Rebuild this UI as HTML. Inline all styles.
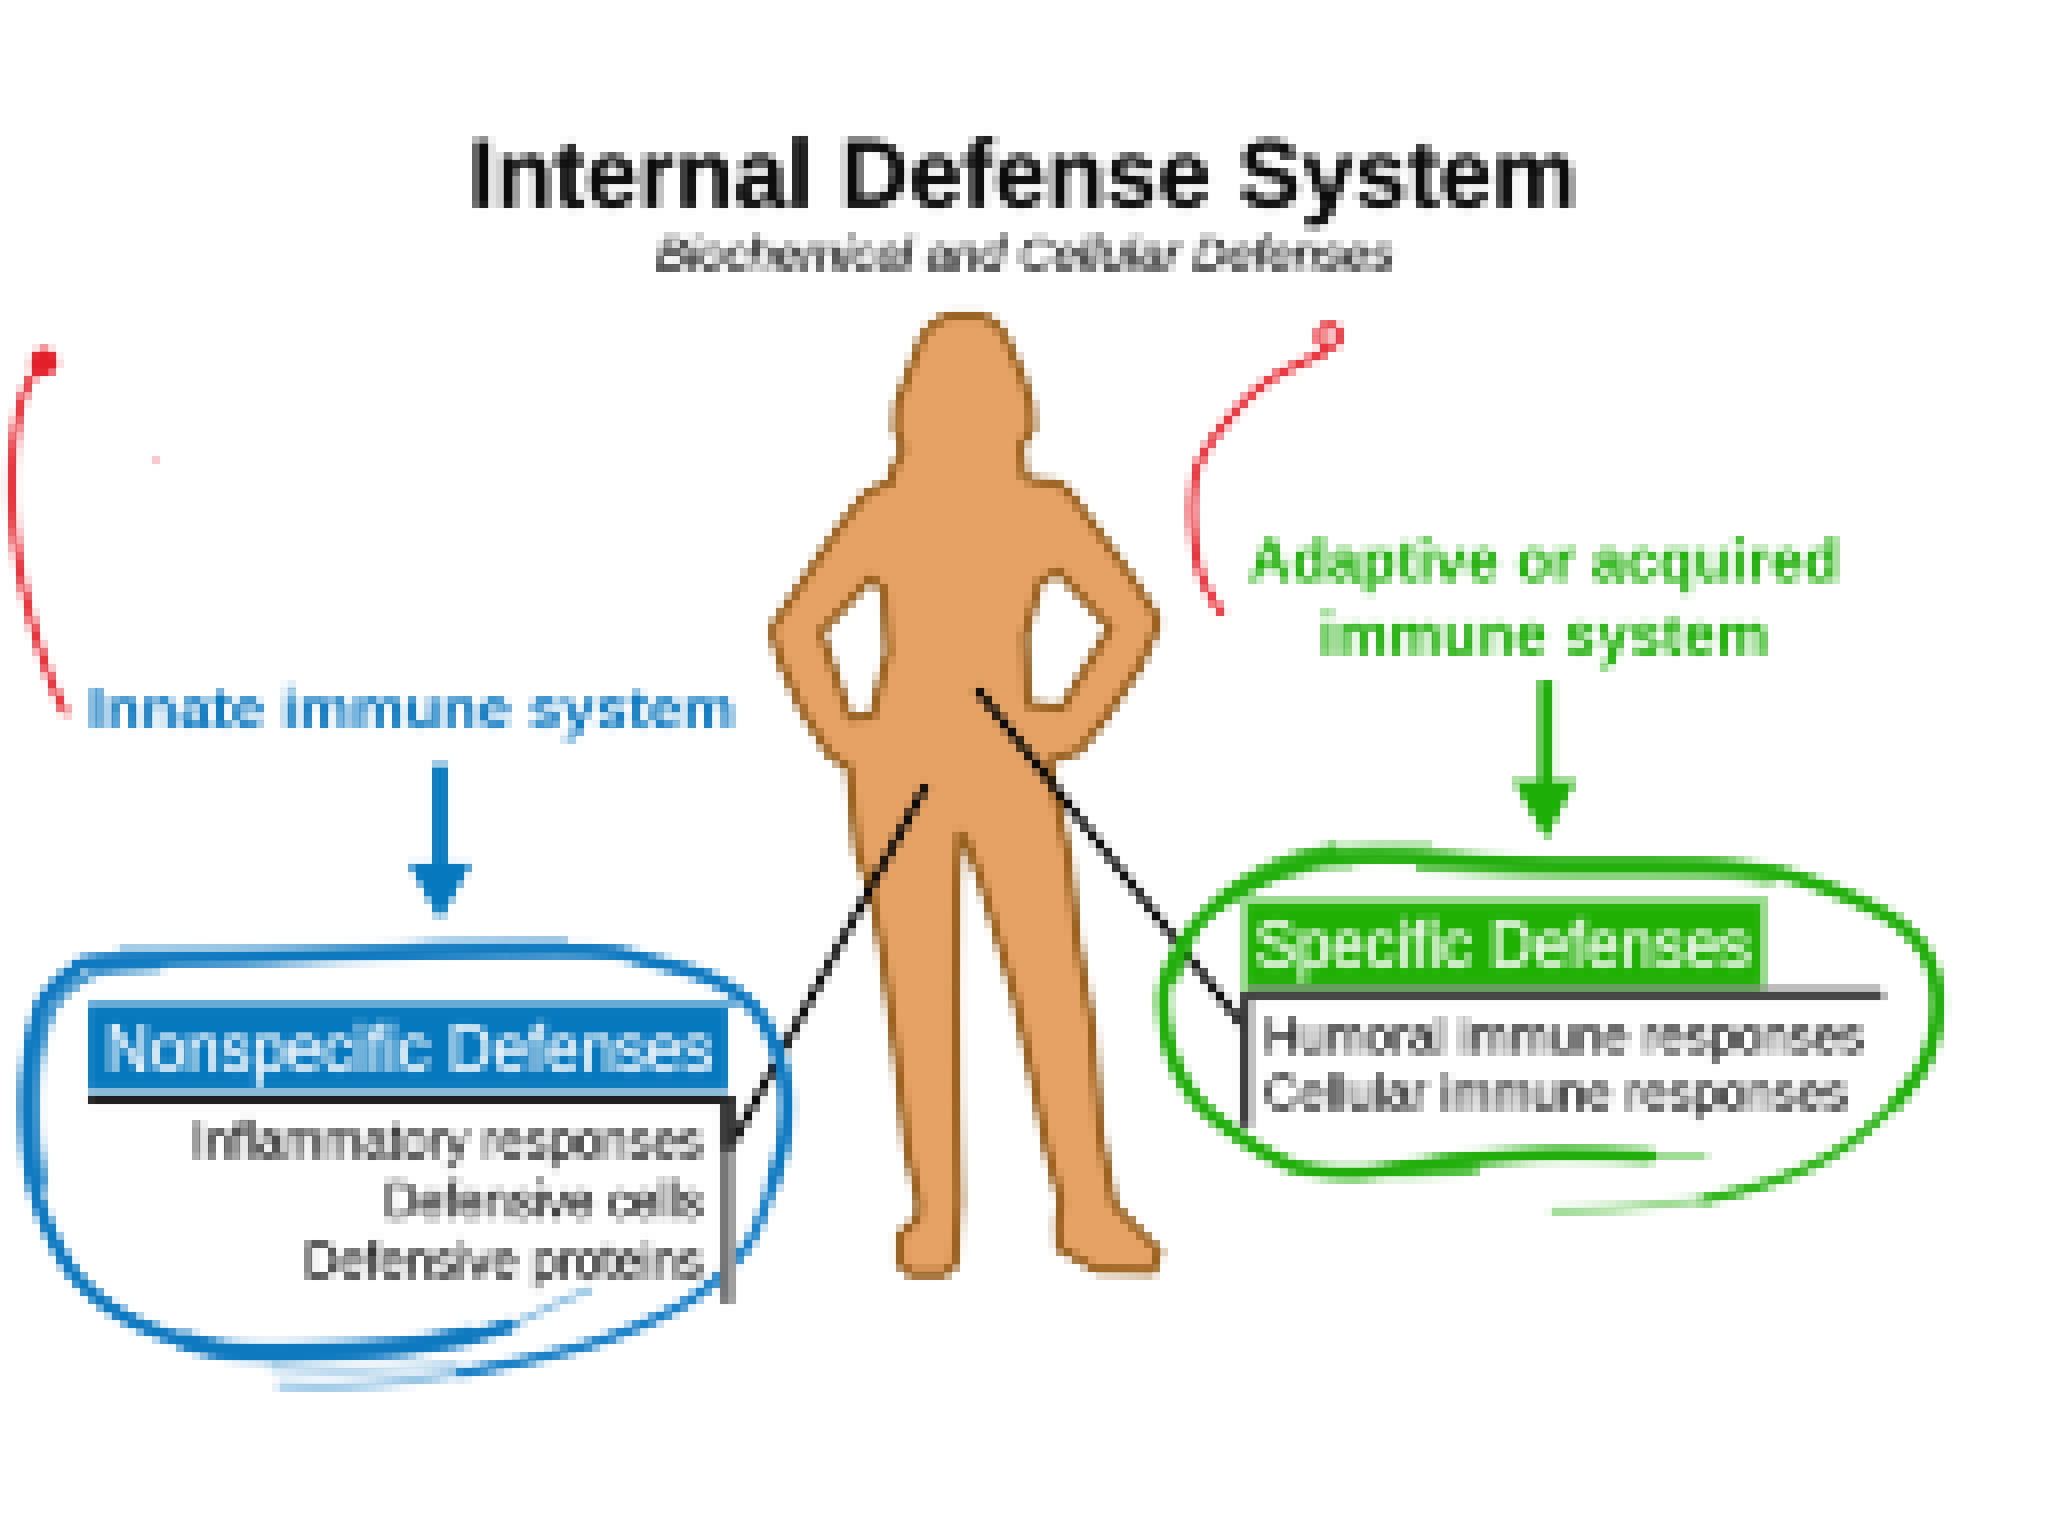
<!DOCTYPE html>
<html lang="en">
<head>
<meta charset="utf-8">
<title>Internal Defense System</title>
<style>
html,body{margin:0;padding:0;background:#fff;}
body{width:2048px;height:1536px;overflow:hidden;font-family:"Liberation Sans",sans-serif;}
svg{display:block;}
text{font-family:"Liberation Sans",sans-serif;}
</style>
</head>
<body>
<svg width="2048" height="1536" viewBox="0 0 2048 1536">
<defs>
<filter id="px" x="0" y="0" width="2048" height="1536" filterUnits="userSpaceOnUse" color-interpolation-filters="sRGB">
<feGaussianBlur in="SourceGraphic" stdDeviation="2.2" result="b"/>
<feFlood x="3" y="3" width="2" height="2" flood-color="#000"/>
<feComposite width="8" height="8"/>
<feTile result="grid"/>
<feComposite in="b" in2="grid" operator="in"/>
<feMorphology operator="dilate" radius="3"/>
<feGaussianBlur stdDeviation="0.6"/>
</filter>
</defs>
<rect width="2048" height="1536" fill="#fff"/>
<g filter="url(#px)">
<rect width="2048" height="1536" fill="#fff"/>

<!-- titles -->
<text id="t1" x="1023" y="207" text-anchor="middle" font-size="97" font-weight="700" fill="#0c0c0c" stroke="#0c0c0c" stroke-width="1.4" textLength="1108" lengthAdjust="spacingAndGlyphs">Internal Defense System</text>
<text id="t2" x="1025" y="270" text-anchor="middle" font-size="47" font-style="italic" fill="#222" stroke="#222" stroke-width="1.5" textLength="738" lengthAdjust="spacingAndGlyphs">Biochemical and Cellular Defenses</text>

<!-- figure -->
<path id="figure" fill="#E5A264" stroke="#98601F" stroke-width="9.5" stroke-linejoin="round" fill-rule="evenodd" d="M950,316 L980,316 C993,319 1000,328 1006,338 L1022,375 L1031,405 L1032,429 L1021,446 L1024,476 C1031,482 1045,482 1057,483 C1066,487 1070,494 1075,500 L1100,534 L1130,575 L1154,612 C1158,620 1158,626 1155,632 L1140,666 L1106,717 L1079,751 L1049,761 L1057,800 L1069,860 L1077,938 L1092,1026 L1100,1131 L1114,1205 L1159,1251 L1153,1271 L1097,1270 L1059,1248 L1058,1223 L1061,1202 L1047,1149 L1033,1079 L1015,998 L998,938 L980,878 L966,840 L960,834 L957,885 L956,991 L957,1096 L959,1202 L955,1264 L944,1274 L911,1274 L900,1264 L900,1235 L918,1218 L919,1202 L907,1149 L897,1061 L883,956 L872,896 L857,850 L852,800 L849,768 L829,754 L802,710 L781,663 L773,636 C772,628 774,624 778,619 L812,568 L842,524 L863,497 C870,490 880,486 890,483 L893,470 L903,449 L896,429 L897,405 L908,375 L922,338 C928,328 937,319 950,316 Z
M871,578 L821,632 L850,718 L872,716 L888,652 L884,590 Z
M1058,571 L1110,628 L1062,708 L1028,704 L1025,636 L1040,582 Z"/>

<!-- black pointer lines -->
<g stroke="#000" stroke-width="8.8" fill="none">
<line x1="977" y1="689" x2="1249" y2="1033"/>
<line x1="926" y1="785" x2="729" y2="1150"/>
</g>

<!-- red curves -->
<g fill="none" stroke="#E62E38" stroke-width="9" stroke-linecap="round">
<path d="M42.0,366.0 C39.5,369.3 31.3,375.5 27.0,386.0 C22.7,396.5 18.5,411.2 16.0,429.0 C13.5,446.8 11.7,471.5 12.0,493.0 C12.3,514.5 14.7,536.5 18.0,558.0 C21.3,579.5 26.7,602.0 32.0,622.0 C37.3,642.0 44.5,663.0 50.0,678.0 C55.5,693.0 62.5,706.3 65.0,712.0"/>
<path d="M1324.0,353.0 C1319.5,355.0 1305.3,361.0 1297.0,365.0 C1288.7,369.0 1281.7,372.0 1274.0,377.0 C1266.3,382.0 1258.7,387.8 1251.0,395.0 C1243.3,402.2 1235.0,411.7 1228.0,420.0 C1221.0,428.3 1214.3,436.3 1209.0,445.0 C1203.7,453.7 1198.8,461.7 1196.0,472.0 C1193.2,482.3 1192.3,495.5 1192.0,507.0 C1191.7,518.5 1192.5,529.7 1194.0,541.0 C1195.5,552.3 1198.0,565.5 1201.0,575.0 C1204.0,584.5 1208.7,591.8 1212.0,598.0 C1215.3,604.2 1219.5,609.7 1221.0,612.0"/>
<circle cx="1329" cy="336" r="10.5"/>
</g>
<circle cx="44" cy="362" r="14.5" fill="#E3202A"/>
<rect x="152" y="456" width="8" height="8" fill="#F7C2CA"/>

<!-- left: innate -->
<text id="t3" x="88" y="728" font-size="58" font-weight="700" fill="#0B77BE" stroke="#0B77BE" stroke-width="0.7" textLength="647" lengthAdjust="spacingAndGlyphs">Innate immune system</text>
<g fill="#0678BE">
<rect x="432" y="764" width="16" height="106"/>
<path d="M407.5,863 L472.5,863 L440,922 Z"/>
</g>
<g fill="none" stroke="#0F79C0" stroke-width="15" stroke-linecap="round" stroke-linejoin="round">
<path d="M589.0,1290.0 C583.5,1292.3 569.3,1298.0 556.0,1304.0 C542.7,1310.0 524.7,1320.2 509.0,1326.0 C493.3,1331.8 469.8,1336.8 462.0,1339.0" stroke-width="8" opacity="0.45"/>
<path d="M462.0,1373.0 C451.7,1374.5 422.0,1379.8 400.0,1382.0 C378.0,1384.2 350.0,1385.5 330.0,1386.0 C310.0,1386.5 288.3,1385.2 280.0,1385.0" stroke-width="9" opacity="0.45"/>
<path d="M509.0,1326.0 C501.2,1328.2 480.2,1335.5 462.0,1339.0 C443.8,1342.5 435.3,1344.7 400.0,1347.0 C364.7,1349.3 285.3,1353.8 250.0,1353.0 C214.7,1352.2 208.8,1348.0 188.0,1342.0 C167.2,1336.0 143.3,1327.5 125.0,1317.0 C106.7,1306.5 90.5,1293.2 78.0,1279.0 C65.5,1264.8 57.3,1247.5 50.0,1232.0 C42.7,1216.5 37.8,1201.5 34.0,1186.0 C30.2,1170.5 28.2,1157.3 27.0,1139.0 C25.8,1120.7 25.2,1096.8 27.0,1076.0 C28.8,1055.2 33.8,1028.3 38.0,1014.0 C42.2,999.7 46.3,997.0 52.0,990.0 C57.7,983.0 64.0,976.8 72.0,972.0 C80.0,967.2 70.3,963.3 100.0,961.0 C129.7,958.7 200.0,959.3 250.0,958.0 C300.0,956.7 343.8,954.2 400.0,953.0 C456.2,951.8 545.3,949.7 587.0,951.0 C628.7,952.3 629.2,956.3 650.0,961.0 C670.8,965.7 694.8,971.3 712.0,979.0 C729.2,986.7 742.5,996.0 753.0,1007.0 C763.5,1018.0 769.5,1030.8 775.0,1045.0 C780.5,1059.2 784.5,1076.3 786.0,1092.0 C787.5,1107.7 786.3,1123.3 784.0,1139.0 C781.7,1154.7 774.0,1178.2 772.0,1186.0"/>
<path d="M772.0,1186.0 C768.2,1195.5 760.3,1225.7 749.0,1243.0 C737.7,1260.3 719.3,1277.5 704.0,1290.0 C688.7,1302.5 675.3,1309.2 657.0,1318.0 C638.7,1326.8 615.5,1336.0 594.0,1343.0 C572.5,1350.0 550.0,1355.0 528.0,1360.0 C506.0,1365.0 473.0,1370.8 462.0,1373.0" stroke-width="11.5" stroke="#1A80C6"/>
<path d="M470.0,1336.0 C458.3,1337.8 428.3,1344.3 400.0,1347.0 C371.7,1349.7 328.3,1351.3 300.0,1352.0 C271.7,1352.7 249.2,1352.8 230.0,1351.0 C210.8,1349.2 192.5,1342.7 185.0,1341.0" stroke-width="20"/>
<path d="M272.0,1368.0 C285.0,1368.3 319.2,1370.3 350.0,1370.0 C380.8,1369.7 439.2,1366.7 457.0,1366.0" stroke-width="7" opacity="0.4"/>
<path d="M120.0,948.0 C141.7,947.8 206.7,947.3 250.0,947.0 C293.3,946.7 346.7,947.0 380.0,946.0 C413.3,945.0 419.2,942.0 450.0,941.0 C480.8,940.0 545.8,940.2 565.0,940.0" stroke-width="6" opacity="0.45"/>
<path d="M160.0,967.0 C150.7,967.7 117.3,968.5 104.0,971.0 C90.7,973.5 87.2,977.5 80.0,982.0 C72.8,986.5 66.3,991.3 61.0,998.0 C55.7,1004.7 51.8,1010.0 48.0,1022.0 C44.2,1034.0 39.8,1052.0 38.0,1070.0 C36.2,1088.0 36.0,1110.8 37.0,1130.0 C38.0,1149.2 42.8,1175.8 44.0,1185.0" stroke-width="9" opacity="0.8"/>
</g>
<rect x="88" y="1000" width="648" height="8" fill="#5FA8D6"/>
<rect x="88" y="1008" width="640" height="80" fill="#0678BE"/>
<rect x="88" y="1088" width="640" height="8" fill="#93C0DC"/>
<text id="t4" x="105" y="1071" font-size="66" fill="#EAF4FB" stroke="#EAF4FB" stroke-width="1.1" textLength="608" lengthAdjust="spacingAndGlyphs">Nonspecific Defenses</text>
<rect x="88" y="1096" width="648" height="8" fill="#111"/>
<rect x="720" y="1104" width="8" height="200" fill="#707070"/>
<rect x="728" y="1104" width="8" height="200" fill="#9A9A9A"/>
<rect x="720" y="1100" width="16" height="50" fill="#333"/>
<g font-size="52" fill="#262626" stroke="#262626" stroke-width="1.3" text-anchor="end">
<text id="t5" x="703" y="1158" textLength="511" lengthAdjust="spacingAndGlyphs">Inflammatory responses</text>
<text id="t6" x="703" y="1218" textLength="319" lengthAdjust="spacingAndGlyphs">Defensive cells</text>
<text id="t7" x="703" y="1278" textLength="399" lengthAdjust="spacingAndGlyphs">Defensive proteins</text>
</g>

<!-- right: adaptive -->
<g font-size="62" font-weight="700" fill="#1EAE08" stroke="#1EAE08" stroke-width="0.7" text-anchor="middle">
<text id="t8" x="1544" y="581" textLength="591" lengthAdjust="spacingAndGlyphs">Adaptive or acquired</text>
<text id="t9" x="1544" y="655" textLength="449" lengthAdjust="spacingAndGlyphs">immune system</text>
</g>
<g fill="#1EAE08">
<rect x="1538.5" y="680" width="15" height="104"/>
<path d="M1512,780 L1577,780 L1546,841 Z"/>
</g>
<g fill="none" stroke="#22AE0C" stroke-width="15" stroke-linecap="round" stroke-linejoin="round">
<path d="M1704.0,1156.0 C1694.8,1156.0 1673.0,1156.3 1649.0,1156.0 C1625.0,1155.7 1574.8,1154.3 1560.0,1154.0" stroke-width="8" opacity="0.45"/>
<path d="M1704.0,1200.0 C1690.3,1201.3 1647.0,1206.2 1622.0,1208.0 C1597.0,1209.8 1565.3,1210.5 1554.0,1211.0" stroke-width="9" opacity="0.45"/>
<path d="M1649.0,1156.0 C1634.2,1155.7 1590.2,1153.5 1560.0,1154.0 C1529.8,1154.5 1492.5,1157.0 1468.0,1159.0 C1443.5,1161.0 1431.2,1163.7 1413.0,1166.0 C1394.8,1168.3 1377.2,1172.5 1359.0,1173.0 C1340.8,1173.5 1318.7,1171.8 1304.0,1169.0 C1289.3,1166.2 1282.3,1161.8 1271.0,1156.0 C1259.7,1150.2 1247.8,1142.7 1236.0,1134.0 C1224.2,1125.3 1210.0,1115.3 1200.0,1104.0 C1190.0,1092.7 1181.8,1079.2 1176.0,1066.0 C1170.2,1052.8 1166.8,1038.7 1165.0,1025.0 C1163.2,1011.3 1161.8,997.8 1165.0,984.0 C1168.2,970.2 1176.3,954.3 1184.0,942.0 C1191.7,929.7 1199.8,919.5 1211.0,910.0 C1222.2,900.5 1237.5,892.0 1251.0,885.0 C1264.5,878.0 1278.2,872.5 1292.0,868.0 C1305.8,863.5 1313.8,859.8 1334.0,858.0 C1354.2,856.2 1378.7,856.0 1413.0,857.0 C1447.3,858.0 1491.5,862.7 1540.0,864.0 C1588.5,865.3 1665.3,863.7 1704.0,865.0 C1742.7,866.3 1753.8,869.0 1772.0,872.0 C1790.2,875.0 1799.3,878.5 1813.0,883.0 C1826.7,887.5 1840.3,892.7 1854.0,899.0 C1867.7,905.3 1883.5,912.7 1895.0,921.0 C1906.5,929.3 1916.2,938.5 1923.0,949.0 C1929.8,959.5 1933.8,971.3 1936.0,984.0 C1938.2,996.7 1938.2,1011.3 1936.0,1025.0 C1933.8,1038.7 1929.8,1052.8 1923.0,1066.0 C1916.2,1079.2 1899.7,1097.7 1895.0,1104.0"/>
<path d="M1895.0,1104.0 C1888.2,1110.0 1867.7,1129.8 1854.0,1140.0 C1840.3,1150.2 1828.8,1157.3 1813.0,1165.0 C1797.2,1172.7 1777.2,1180.2 1759.0,1186.0 C1740.8,1191.8 1713.2,1197.7 1704.0,1200.0" stroke-width="11" stroke="#2FB41A"/>
<path d="M1359.0,1173.0 C1369.2,1173.0 1400.8,1173.5 1420.0,1173.0 C1439.2,1172.5 1465.0,1170.5 1474.0,1170.0" stroke-width="10" opacity="0.8"/>
<path d="M1430.0,845.0 C1421.7,845.0 1396.0,844.5 1380.0,845.0 C1364.0,845.5 1341.7,847.5 1334.0,848.0" stroke-width="7" opacity="0.4"/>
<path d="M1334.0,848.0 C1327.3,849.5 1306.3,853.2 1294.0,857.0 C1281.7,860.8 1270.7,865.5 1260.0,871.0 C1249.3,876.5 1239.2,882.8 1230.0,890.0 C1220.8,897.2 1212.0,904.8 1205.0,914.0 C1198.0,923.2 1193.0,934.3 1188.0,945.0 C1183.0,955.7 1177.2,972.5 1175.0,978.0" stroke-width="10" opacity="0.9"/>
<path d="M1352.0,868.0 C1346.7,868.2 1330.3,867.7 1320.0,869.0 C1309.7,870.3 1295.0,874.8 1290.0,876.0" stroke-width="7" opacity="0.35"/>
<path d="M1420.0,868.0 C1440.0,868.8 1492.7,872.0 1540.0,873.0 C1587.3,874.0 1665.7,872.7 1704.0,874.0 C1742.3,875.3 1759.0,879.8 1770.0,881.0" stroke-width="9" opacity="0.7"/>
</g>
<rect x="1240" y="896" width="528" height="96" fill="#96DA8B"/>
<rect x="1248" y="904" width="512" height="88" fill="#20B004"/>
<text id="t10" x="1255" y="967" font-size="66" fill="#EAF8E7" stroke="#EAF8E7" stroke-width="1.1" textLength="496" lengthAdjust="spacingAndGlyphs">Specific Defenses</text>
<rect x="1248" y="984" width="634" height="8" fill="#959595" opacity="0.64"/>
<rect x="1240" y="992" width="644" height="8" fill="#3c3c3c"/>
<rect x="1240" y="996" width="8" height="131" fill="#333"/>
<rect x="1248" y="1000" width="8" height="127" fill="#C0C0C0"/>
<g font-size="50" fill="#262626" stroke="#262626" stroke-width="1.3">
<text id="t11" x="1264" y="1053" textLength="600" lengthAdjust="spacingAndGlyphs">Humoral immune responses</text>
<text id="t12" x="1264" y="1110" textLength="584" lengthAdjust="spacingAndGlyphs">Cellular immune responses</text>
</g>
</g>
</svg>
</body>
</html>
